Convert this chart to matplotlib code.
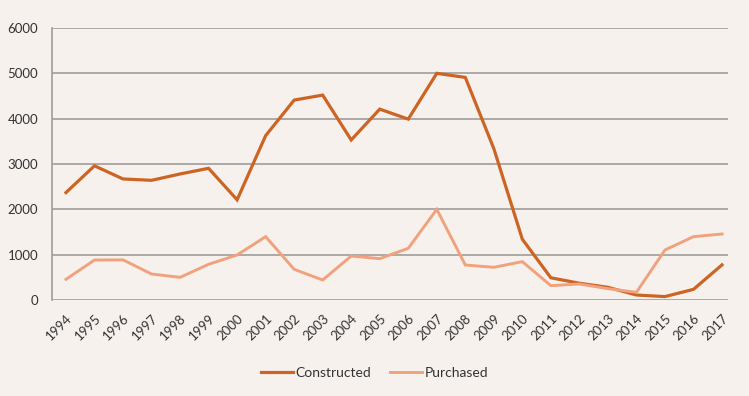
import matplotlib
matplotlib.use("Agg")
import matplotlib.pyplot as plt

years = [str(y) for y in range(1994, 2018)]
constructed = [2370, 2960, 2670, 2640, 2780, 2905, 2210, 3625, 4410, 4520, 3530, 4210,
               3990, 5000, 4910, 3340, 1340, 490, 370, 280, 110, 75, 235, 775]
purchased = [456, 882, 885, 573, 500, 787, 993, 1397, 677, 441, 970, 912,
             1140, 2000, 772, 721, 846, 316, 353, 250, 170, 1103, 1397, 1456]
yticks = [0, 1000, 2000, 3000, 4000, 5000, 6000]

bg = "#f7f1ee"
c_con = "#cc6524"
c_pur = "#f0a27c"
txt = "#333333"

plt.rcParams['font.family'] = ['Lato', 'DejaVu Sans']

fig = plt.figure(figsize=(7.49, 3.96), dpi=100, facecolor=bg)
ax = fig.add_axes([52/749, 1-300/396, 676/749, 272/396], facecolor=bg)

x = list(range(len(years)))
ax.plot(x, constructed, color=c_con, lw=2.3, label="Constructed", solid_joinstyle="miter", zorder=3)
ax.plot(x, purchased, color=c_pur, lw=2.1, label="Purchased", solid_joinstyle="miter", zorder=3)

ax.set_ylim(0, 6000)
ax.set_xlim(-0.49, 23.21)
ax.set_yticks(yticks)
ax.set_yticklabels([str(v) for v in yticks], fontsize=9.5, color=txt)
ax.set_xticks(x)
ax.set_xticklabels(years, rotation=45, ha="right", va="top", rotation_mode="anchor",
                   fontsize=9.5, color=txt)
ax.tick_params(axis="y", length=0, pad=10)
ax.tick_params(axis="x", length=0, pad=9)
ax.yaxis.grid(True, color="#9d9d9d", lw=1.2)
ax.set_axisbelow(True)
for s in ["top", "right", "bottom"]:
    ax.spines[s].set_visible(False)
ax.spines["left"].set_color("#9d9d9d")
ax.spines["left"].set_linewidth(1.2)

leg = fig.legend(loc="center", bbox_to_anchor=(0.5, 1-373/396), ncol=2, frameon=False,
                 fontsize=10, handlelength=2.3, handletextpad=0.2, columnspacing=1.3)
for t in leg.get_texts():
    t.set_color(txt)

fig.savefig("out.png", dpi=100, facecolor=bg)
